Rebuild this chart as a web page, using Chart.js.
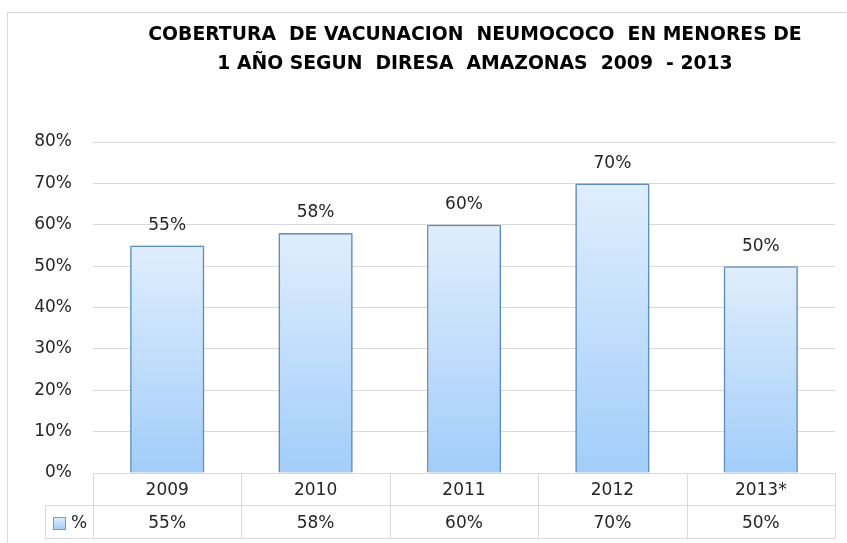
<!DOCTYPE html>
<html>
<head>
<meta charset="utf-8">
<script src="https://cdn.jsdelivr.net/npm/chart.js@4.4.1/dist/chart.umd.min.js"></script>
<style>
html,body{margin:0;padding:0;background:#ffffff;}
#wrap{width:847px;height:543px;position:relative;}
</style>
</head>
<body>
<div id="wrap"><canvas id="c" width="847" height="543"></canvas></div>
<script>
const titleLines = ["COBERTURA  DE VACUNACION  NEUMOCOCO  EN MENORES DE", "1 AÑO SEGUN  DIRESA  AMAZONAS  2009  - 2013"];
const categories = ["2009", "2010", "2011", "2012", "2013*"];
const seriesName = "%";
const coverage = [55, 58, 60, 70, 50];
const yTicksMax = 80;
const yTickStep = 10;

const FONT = "'DejaVu Sans', sans-serif";
const TEXT = '#262626';
const GRID = '#d9d9d9';
const BAR_TOP = '#e0eefd';
const BAR_BOTTOM = '#a2cdfa';
const BAR_BORDER = '#6a9fd4';

function barGradient(c, yTop, yBottom) {
  const g = c.createLinearGradient(0, yTop, 0, yBottom);
  g.addColorStop(0, BAR_TOP);
  g.addColorStop(1, BAR_BOTTOM);
  return g;
}

const framePlugin = {
  id: 'frame',
  beforeDraw(chart) {
    const c = chart.ctx;
    c.save();
    c.fillStyle = '#ffffff';
    c.fillRect(0, 0, chart.width, chart.height);
    c.strokeStyle = GRID;
    c.lineWidth = 1;
    c.beginPath();
    c.moveTo(7.5, chart.height);
    c.lineTo(7.5, 12.5);
    c.lineTo(chart.width, 12.5);
    c.stroke();
    c.restore();
  }
};

const titlePlugin = {
  id: 'titleText',
  afterDraw(chart) {
    const c = chart.ctx;
    c.save();
    c.font = "bold 18.8px " + FONT;
    c.fillStyle = '#000000';
    c.textAlign = 'center';
    c.textBaseline = 'middle';
    c.fillText(titleLines[0], 475, 35);
    c.fillText(titleLines[1], 475, 64);
    c.restore();
  }
};

const shadowPlugin = {
  id: 'barShadow',
  beforeDatasetDraw(chart) {
    const c = chart.ctx;
    c.save();
    c.shadowColor = 'rgba(0,0,0,0.28)';
    c.shadowBlur = 4;
    c.shadowOffsetX = 0;
    c.shadowOffsetY = 0;
  },
  afterDatasetDraw(chart) {
    chart.ctx.restore();
  }
};

const labelPlugin = {
  id: 'valueLabels',
  afterDatasetsDraw(chart) {
    const c = chart.ctx;
    const meta = chart.getDatasetMeta(0);
    c.save();
    c.font = "17px " + FONT;
    c.fillStyle = TEXT;
    c.textAlign = 'center';
    c.textBaseline = 'middle';
    meta.data.forEach((el, i) => {
      c.fillText(coverage[i] + '%', el.x, el.y - 20);
    });
    c.restore();
  }
};

const tablePlugin = {
  id: 'dataTable',
  afterDraw(chart) {
    const c = chart.ctx;
    const xs = chart.scales.x;
    const area = chart.chartArea;
    const n = categories.length;
    const cw = (area.right - area.left) / n;
    const top = Math.round(area.bottom);
    const mid = top + 32;
    const bot = top + 65;
    const legLeft = 45;
    c.save();
    c.strokeStyle = GRID;
    c.lineWidth = 1;
    c.beginPath();
    c.moveTo(area.left, top + 0.5); c.lineTo(area.right, top + 0.5);
    c.moveTo(legLeft, mid + 0.5); c.lineTo(area.right, mid + 0.5);
    c.moveTo(legLeft, bot + 0.5); c.lineTo(area.right, bot + 0.5);
    for (let i = 0; i <= n; i++) {
      const x = Math.round(area.left + i * cw) + 0.5;
      c.moveTo(x, top); c.lineTo(x, bot);
    }
    c.moveTo(legLeft + 0.5, mid); c.lineTo(legLeft + 0.5, bot);
    c.stroke();

    c.font = "17px " + FONT;
    c.fillStyle = TEXT;
    c.textAlign = 'center';
    c.textBaseline = 'middle';
    categories.forEach((cat, i) => {
      const x = xs.getPixelForValue(i);
      c.fillText(cat, x, (top + mid) / 2 + 2);
      c.fillText(coverage[i] + '%', x, (mid + bot) / 2 + 2);
    });

    const kx = 53.5, ky = mid + 12.5, ks = 12;
    c.fillStyle = barGradient(c, ky, ky + ks);
    c.fillRect(kx, ky, ks, ks);
    c.strokeStyle = BAR_BORDER;
    c.strokeRect(kx, ky, ks, ks);
    c.fillStyle = TEXT;
    c.textAlign = 'left';
    c.fillText(seriesName, 71, (mid + bot) / 2 + 2);
    c.restore();
  }
};

new Chart(document.getElementById('c'), {
  type: 'bar',
  data: {
    labels: categories,
    datasets: [{
      label: seriesName,
      data: coverage,
      backgroundColor(ctx) {
        const chart = ctx.chart;
        const y = chart.scales && chart.scales.y;
        if (!y || ctx.type !== 'data') return BAR_BOTTOM;
        const top = y.getPixelForValue(ctx.raw);
        const base = y.getPixelForValue(0);
        if (!isFinite(top) || !isFinite(base) || top === base) return BAR_BOTTOM;
        return barGradient(chart.ctx, top, base);
      },
      borderColor: BAR_BORDER,
      borderWidth: 1.6,
      borderSkipped: 'start',
      categoryPercentage: 1.0,
      barPercentage: 0.5
    }]
  },
  options: {
    responsive: false,
    animation: false,
    devicePixelRatio: 1,
    layout: { padding: { top: 142, right: 12, bottom: 70, left: 0 } },
    plugins: {
      legend: { display: false },
      title: { display: false },
      tooltip: { enabled: false }
    },
    scales: {
      x: {
        display: false,
        grid: { display: false }
      },
      y: {
        min: 0,
        max: yTicksMax,
        afterFit(scale) { scale.width = 93; },
        border: { display: false },
        grid: { color: GRID, lineWidth: 1, drawTicks: false },
        ticks: {
          stepSize: yTickStep,
          padding: 21,
          color: TEXT,
          font: { family: FONT, size: 17 },
          callback: v => v + '%'
        }
      }
    }
  },
  plugins: [framePlugin, shadowPlugin, labelPlugin, tablePlugin, titlePlugin]
});
</script>
</body>
</html>
